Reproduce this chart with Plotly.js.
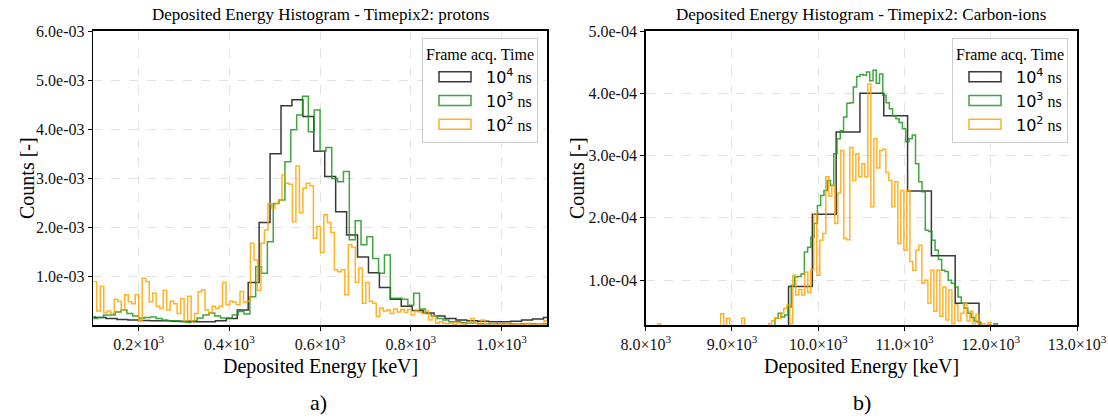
<!DOCTYPE html>
<html><head><meta charset="utf-8">
<script src="https://cdn.plot.ly/plotly-3.0.1.min.js"></script>
<style>html,body{margin:0;padding:0;background:#fff}</style>
</head><body><div id="chart" style="width:1108px;height:419px"></div>
<script>
// ---------- DATA ----------
// Panel a) protons: counts in units of 1e-3, bins given by start & width (keV)
const protonsBlackStart = 79.9, protonsBlackWidth = 24.1;
const protonsBlack = [0.18,0.17,0.15,0.13,0.12,0.11,0.10,0.10,0.09,0.09,0.08,0.08,0.10,0.15,0.32,0.88,2.10,3.50,4.48,4.60,4.26,3.55,3.04,2.32,1.85,1.40,1.08,0.78,0.54,0.40,0.31,0.26,0.20,0.15,0.12,0.10,0.09,0.08,0.08,0.09,0.12,0.14,0.17];

const protonsGreenStart = 96.7, protonsGreenWidth = 12.9;
const protonsGreen = [0.15,0.17,0.22,0.22,0.28,0.32,0.25,0.2,0.16,0.17,0.18,0.15,0.12,0.1,0.1,0.08,0.07,0.1,
  0.16,0.22,0.26,0.2,0.16,0.16,0.22,0.29,0.24,
  0.59,1.2,1.07,1.71,2.49,2.56,3.34,3.99,4.29,4.67,3.95,4.39,3.55,3.63,3.00,2.93,3.14,1.75,2.14,1.65,1.81,1.37,1.07,1.44,0.56,0.56,0.54,0.42,0.66,0.34,
  0.25,0.2,0.15,0.12,0.08,0.08,0.06,0.05,0.05,0.04,0.04,0.04,0.04,0.04,0.04,0.04,0.04,0.04,0.04,0.04,0.04];

const protonsOrangeStart = 100, protonsOrangeWidth = 7.7;
const protonsOrange = [0.9,0.3,0.8,0.27,0.3,0.25,0.54,0.5,0.32,0.63,0.49,0.45,0.63,0.1,0.97,0.9,0.49,0.66,0.4,0.35,0.72,0.32,0.5,0.45,0.25,0.55,0.1,0.6,0.1,0.25,0.69,
  0.73,0.32,0.25,0.4,0.35,0.4,0.88,0.43,0.5,0.48,0.43,0.7,0.48,0.5,1.68,1.34,0.72,1.68,1.95,2.49,2.39,2.49,2.56,3.07,2.9,2.88,2.12,3.25,
  2.3,2.8,2.9,2.85,1.78,2.02,1.49,2.26,2.1,1.9,1.14,1.1,1.14,0.63,1.65,1.6,0.88,1.17,0.46,0.88,0.5,0.46,0.19,0.36,0.3,
  0.32,0.25,0.34,0.28,0.33,0.27,0.33,0.22,0.3,0.28,
  0.25,0.3,0.12,0.2,0.05,0.08,0.05,0.04,0.05,0.03,0.06,0.04,0.03,0.05,0.15,0.05,0.03,0.12,0.04,0.03,0.05,0.02,0.04,0.03,0.05,0.02,0.03,0.04,0.02,0.03,0.05,0.03,0.02,0.04,0.03,0.1];

// Panel b) carbon ions: counts in units of 1e-4
const carbonBlackStart = 8000, carbonBlackWidth = 276;
const carbonBlack = [0,0,0,0,0,0,0.9,2.06,3.38,4.0,3.64,2.43,1.39,0.63,0,0,0,0];

const carbonGreenStart = 9460.1, carbonGreenWidth = 37.9;
const carbonGreen = [0,0.39,0.47,0.41,0.44,0.57,0.92,1.05,1.06,1.10,1.45,1.53,1.69,1.91,2.2,2.36,2.44,2.6,2.52,3.03,3.27,3.4,3.62,3.84,3.85,4.1,4.27,4.30,4.29,4.34,4.2,4.37,4.16,4.31,3.97,3.85,3.75,3.64,3.59,3.53,3.43,3.22,3.27,3.33,2.87,2.58,2.42,1.8,1.78,1.64,1.48,1.33,1.16,1.14,1.0,0.95,0.89,0.73,0.63,0.55,0.47,0.40,0.34,0.33,0.25,0.20,0.28,0.22,0.30,0.22,0];

const carbonOrangeStart = 8000, carbonOrangeWidth = 34.8;
const carbonOrange = [0,0,0,0,0.3,0,0,0,0,0,0,0,0,0,0,0,0,0,0,0,0,0,0,0,0,0.46,0,0.39,0,0,0,0,0.39,0,0,0,0,0,0,0,0,0.3,
  0.35,0.39,0.39,0.47,0.55,0.6,0.3,1.08,0.76,0.85,0.76,1.13,0.8,1.17,2.07,1.08,1.64,1.75,2.66,2.35,2.52,1.91,2.4,3.08,1.67,1.65,3.13,2.6,3.03,2.66,2.87,2.66,4.15,2.18,3.27,2.8,3.08,3.1,2.73,2.6,2.18,2.58,1.59,2.44,1.48,2.44,1.3,1.16,1.48,1.56,0.95,1.0,0.63,1.16,0.5,1.16,0.42,0.89,0.36,0.84,0.3,0.6,0.35,0.47,0.63,0.35,0.5,0.3,0.45,0.2,0.3,0.15,0.32,
  0.05,0.1,0,0,0.25,0];

const seriesNames = ['10<sup>4</sup>','10<sup>3</sup>','10<sup>2</sup>'];
const protonTicks = [200,400,600,800,1000];
const protonTickText = ['0.2×10<sup>3</sup>','0.4×10<sup>3</sup>','0.6×10<sup>3</sup>','0.8×10<sup>3</sup>','1.0×10<sup>3</sup>'];
const carbonTicks = [8000,9000,10000,11000,12000,13000];
const carbonTickText = ['8.0×10<sup>3</sup>','9.0×10<sup>3</sup>','10.0×10<sup>3</sup>','11.0×10<sup>3</sup>','12.0×10<sup>3</sup>','13.0×10<sup>3</sup>'];
const protonYTicks = [0.001,0.002,0.003,0.004,0.005,0.006];
const protonYText = ['1.0e-03','2.0e-03','3.0e-03','4.0e-03','5.0e-03','6.0e-03'];
const carbonYTicks = [0.0001,0.0002,0.0003,0.0004,0.0005];
const carbonYText = ['1.0e-04','2.0e-04','3.0e-04','4.0e-04','5.0e-04'];

// ---------- STYLE ----------
const SERIF = 'Liberation Serif';
const colors = ['rgba(0,0,0,0.78)','rgba(30,150,30,0.85)','rgba(255,165,0,0.85)'];

function stepTrace(start, width, counts, scale, color, name, xa, ya, legend) {
  const x = [], y = [];
  for (let i = 0; i < counts.length; i++) { x.push(start + width * i); y.push(counts[i] * scale); }
  x.push(start + width * counts.length); y.push(counts[counts.length - 1] * scale);
  return {type:'scatter', mode:'lines', x:x, y:y, xaxis:xa, yaxis:ya, legend:legend,
    legendgroup: legend + name, hoverinfo:'skip',
    name:'<span style="font-family:DejaVu Sans;font-size:16px">' + name + '</span> ns',
    line:{shape:'hv', color:color, width:1.5}};
}

const traces = [
  stepTrace(protonsBlackStart, protonsBlackWidth, protonsBlack, 1e-3, colors[0], seriesNames[0], 'x', 'y', 'legend'),
  stepTrace(protonsGreenStart, protonsGreenWidth, protonsGreen, 1e-3, colors[1], seriesNames[1], 'x', 'y', 'legend'),
  stepTrace(protonsOrangeStart, protonsOrangeWidth, protonsOrange, 1e-3, colors[2], seriesNames[2], 'x', 'y', 'legend'),
  stepTrace(carbonBlackStart, carbonBlackWidth, carbonBlack, 1e-4, colors[0], seriesNames[0], 'x2', 'y2', 'legend2'),
  stepTrace(carbonGreenStart, carbonGreenWidth, carbonGreen, 1e-4, colors[1], seriesNames[1], 'x2', 'y2', 'legend2'),
  stepTrace(carbonOrangeStart, carbonOrangeWidth, carbonOrange, 1e-4, colors[2], seriesNames[2], 'x2', 'y2', 'legend2')
];

const W = 1108, H = 419;
const px = v => v / W, py = v => 1 - v / H;

function axisBase(extra) {
  return Object.assign({
    showgrid:true, gridcolor:'#e2e2e2', griddash:'dash', gridwidth:1,
    zeroline:false, showline:true, linecolor:'#000', linewidth:1.6, mirror:true,
    ticks:'outside', ticklen:4, tickwidth:1, tickcolor:'#000',
    tickfont:{family:SERIF, size:16, color:'#111'}, tickmode:'array', fixedrange:true
  }, extra);
}

function legendCfg(right) {
  return {x:px(right), xanchor:'right', y:py(38), yanchor:'top',
    bgcolor:'rgba(255,255,255,0.85)', bordercolor:'#cccccc', borderwidth:1,
    font:{family:SERIF, size:16, color:'#000'}, itemwidth:53, tracegroupgap:0,
    title:{text:'Frame acq. Time', side:'top center', font:{family:SERIF, size:16, color:'#000'}}};
}

const ann = (x, y, text, size, extra) => Object.assign({xref:'paper', yref:'paper', x:x, y:y, text:text,
  showarrow:false, xanchor:'center', yanchor:'middle', font:{family:SERIF, size:size, color:'#000'}}, extra || {});

const layout = {
  width:W, height:H, autosize:false, margin:{l:0, r:0, t:0, b:0},
  paper_bgcolor:'#fff', plot_bgcolor:'#fff', showlegend:true,
  xaxis: axisBase({domain:[px(93.3), px(547)], range:[100,1100], tickvals:protonTicks, ticktext:protonTickText, anchor:'y'}),
  yaxis: axisBase({domain:[py(325), py(31)], range:[0.000016,0.006], tickvals:protonYTicks, ticktext:protonYText, anchor:'x'}),
  xaxis2: axisBase({domain:[px(645.7), px(1077)], range:[8000,13000], tickvals:carbonTicks, ticktext:carbonTickText, anchor:'y2'}),
  yaxis2: axisBase({domain:[py(325), py(31)], range:[0.000028,0.0005], tickvals:carbonYTicks, ticktext:carbonYText, anchor:'x2'}),
  legend: legendCfg(538),
  legend2: legendCfg(1068),
  annotations: [
    ann(px(320), py(15), 'Deposited Energy Histogram - Timepix2: protons', 17),
    ann(px(861), py(15), 'Deposited Energy Histogram - Timepix2: Carbon-ions', 17),
    ann(px(320), py(366), 'Deposited Energy [keV]', 20),
    ann(px(861), py(366), 'Deposited Energy [keV]', 20),
    ann(px(27), py(178), 'Counts [-]', 20, {textangle:-90}),
    ann(px(577), py(178), 'Counts [-]', 20, {textangle:-90}),
    ann(px(318), py(402), 'a)', 22),
    ann(px(862), py(402), 'b)', 22)
  ]
};

Plotly.newPlot('chart', traces, layout, {staticPlot:true, displayModeBar:false}).then(function(gd) {
  gd.querySelectorAll('.legendlines path').forEach(function(p) {
    p.setAttribute('d', 'M16,-5h32v10h-32z');
    p.style.fill = 'none';
  });
});
</script></body></html>
